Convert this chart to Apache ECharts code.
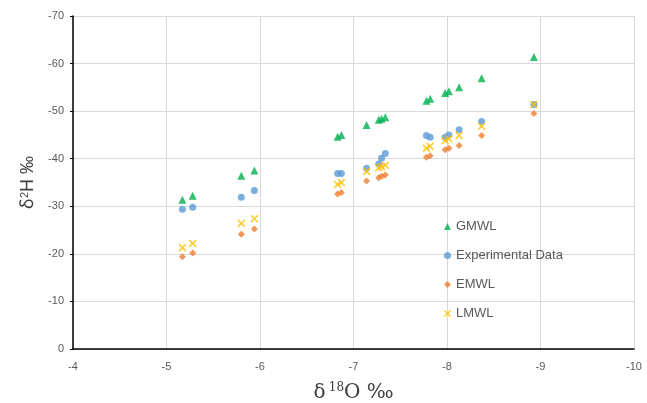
<!DOCTYPE html>
<html>

<head>
    <meta http-equiv="Content-Type" content="text/html; charset=utf-8" />
    <title>δ18O - δ2H</title>
    <script src="https://cdn.jsdelivr.net/npm/echarts@6/dist/echarts.min.js"></script>
    <style>
        html, body { margin: 0; padding: 0; background: #fff; }
        #div1 { width: 647px; height: 403px; }
    </style>
</head>

<body>
    <div id="div1"></div>
    <script type="text/javascript">
        // δ18O of each sample (shared by all four series)
        var d18O = [-5.17, -5.28, -5.80, -5.94, -6.83, -6.87, -7.14, -7.27, -7.30, -7.34, -7.78, -7.82, -7.98, -8.02, -8.13, -8.37, -8.93];
        // δ2H values
        var gmwl = [-31.4, -32.2, -36.4, -37.5, -44.6, -45.0, -47.1, -48.2, -48.4, -48.7, -52.2, -52.6, -53.8, -54.2, -55.0, -56.9, -61.4];
        var expData = [-29.4, -29.8, -31.9, -33.3, -36.9, -36.9, -38.0, -38.9, -40.1, -41.1, -44.9, -44.5, -44.5, -45.0, -46.1, -47.8, -51.4];
        var emwl = [-19.4, -20.2, -24.1, -25.2, -32.6, -32.9, -35.3, -36.0, -36.3, -36.6, -40.3, -40.6, -41.9, -42.2, -42.8, -44.9, -49.5];
        var lmwl = [-21.3, -22.2, -26.4, -27.4, -34.6, -35.0, -37.3, -38.1, -38.3, -38.6, -42.2, -42.6, -43.8, -44.2, -44.9, -46.8, -51.4];
        var seriesNames = ['GMWL', 'Experimental Data', 'EMWL', 'LMWL'];

        function pairs(ys) {
            return d18O.map(function(x, i) { return [x, ys[i]]; });
        }

        var xMark = 'path://M0,1.5 L1.5,0 L5,3.5 L8.5,0 L10,1.5 L6.5,5 L10,8.5 L8.5,10 L5,6.5 L1.5,10 L0,8.5 L3.5,5 Z';
        var font = 'Liberation Sans';

        var myChart = echarts.init(document.getElementById('div1'));

        var option = {
            animation: false,
            textStyle: { fontFamily: font },
            grid: { left: 73, right: 13, top: 16, bottom: 54, containLabel: false, outerBoundsMode: 'none' },
            legend: {
                orient: 'vertical',
                left: 439,
                top: 214,
                itemGap: 14,
                itemWidth: 7,
                itemHeight: 7,
                textStyle: { color: '#595959', fontSize: 13, fontFamily: font, lineHeight: 15 },
                data: [
                    { name: seriesNames[0], icon: 'triangle' },
                    { name: seriesNames[1], icon: 'circle' },
                    { name: seriesNames[2], icon: 'diamond' },
                    { name: seriesNames[3], icon: xMark }
                ]
            },
            xAxis: {
                type: 'value',
                min: -10,
                max: -4,
                interval: 1,
                inverse: true,
                name: '{d|ẟ} {s|18}{d|O ‰}',
                nameLocation: 'middle',
                nameGap: 33,
                nameTextStyle: {
                    rich: {
                        d: { fontSize: 20, color: '#404040', fontFamily: 'DejaVu Serif' },
                        s: { fontSize: 12, color: '#404040', verticalAlign: 'top', padding: [0, 0, 9, 0], fontFamily: 'DejaVu Serif' }
                    }
                },
                axisLine: { lineStyle: { color: '#000', width: 1.5 } },
                axisTick: { show: false },
                axisLabel: { color: '#595959', fontSize: 11, margin: 12 },
                splitLine: { show: true, lineStyle: { color: '#d9d9d9' } }
            },
            yAxis: {
                type: 'value',
                min: -70,
                max: 0,
                interval: 10,
                inverse: true,
                name: '{d|ẟ}{s|2}{d|H ‰}',
                nameLocation: 'middle',
                nameGap: 31,
                nameRotate: 90,
                nameTextStyle: {
                    rich: {
                        d: { fontSize: 18, color: '#404040', fontFamily: font },
                        s: { fontSize: 11, color: '#404040', verticalAlign: 'top', padding: [0, 0, 7, 0], fontFamily: font }
                    }
                },
                axisLine: { show: true, onZero: false, lineStyle: { color: '#000', width: 1.5 } },
                axisTick: { show: true, length: 3, lineStyle: { color: '#000' } },
                axisLabel: { color: '#595959', fontSize: 11, margin: 9 },
                splitLine: { show: true, lineStyle: { color: '#d9d9d9' } }
            },
            series: [{
                name: seriesNames[0],
                type: 'scatter',
                symbol: 'triangle',
                symbolSize: 8,
                itemStyle: { color: '#00B050' },
                data: pairs(gmwl)
            }, {
                name: seriesNames[1],
                type: 'scatter',
                symbol: 'circle',
                symbolSize: 7,
                itemStyle: { color: '#5B9BD5' },
                data: pairs(expData)
            }, {
                name: seriesNames[2],
                type: 'scatter',
                symbol: 'diamond',
                symbolSize: 7,
                itemStyle: { color: '#ED7D31' },
                data: pairs(emwl)
            }, {
                name: seriesNames[3],
                type: 'scatter',
                symbol: xMark,
                symbolSize: 8,
                itemStyle: { color: '#FFC000' },
                data: pairs(lmwl)
            }]
        };
        myChart.setOption(option);
    </script>
</body>

</html>
